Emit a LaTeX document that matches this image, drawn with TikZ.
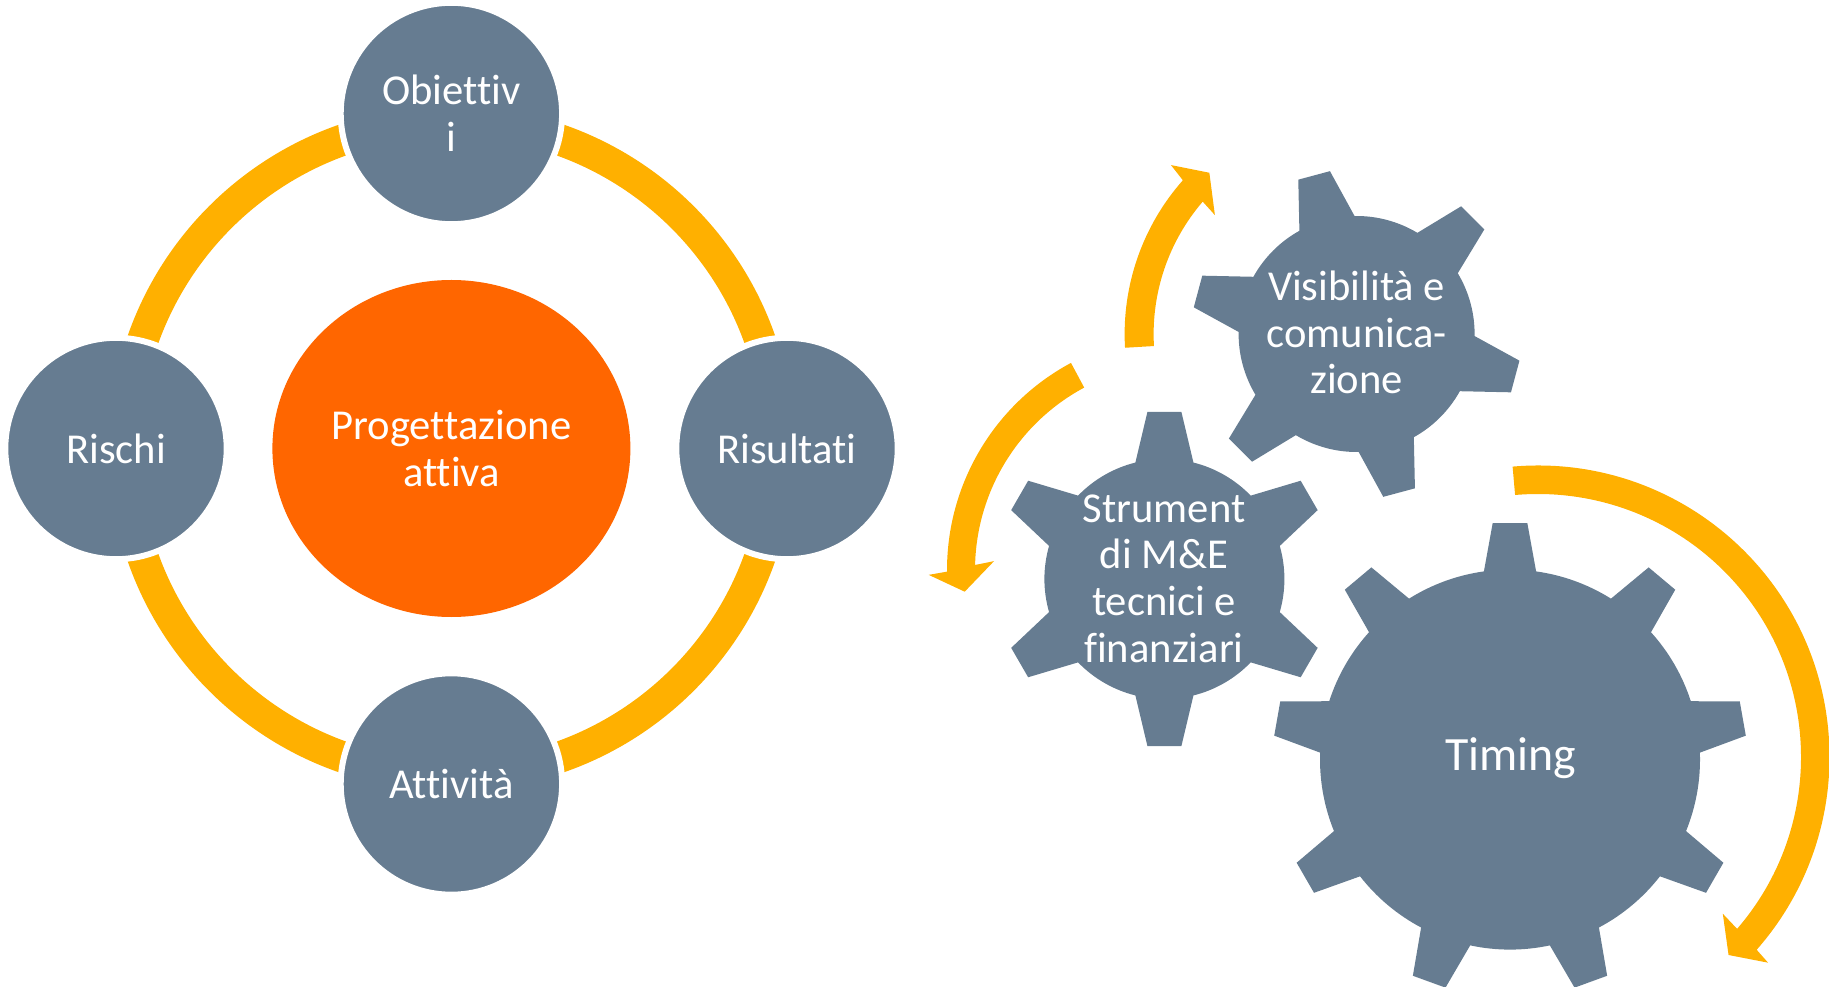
\documentclass[tikz,border=0pt]{standalone}
\usepackage{fontspec}
\setmainfont[Ligatures=NoCommon]{Carlito}
\usetikzlibrary{backgrounds,shapes.geometric}

\definecolor{slateblue}{HTML}{667C91}
\definecolor{ringyellow}{HTML}{FFB000}
\definecolor{coreorange}{HTML}{FF6600}

\tikzset{
    stepnode/.style={circle,fill=slateblue,draw=white,line width=3pt,minimum size=110.7pt,inner sep=0pt,align=center,text=white,font=\fontsize{21.3}{23.3}\selectfont},
    corenode/.style={ellipse,fill=coreorange,minimum width=179pt,minimum height=168.5pt,inner sep=0pt,align=center,text=white,font=\fontsize{21.3}{23.3}\selectfont},
    gearlabel/.style={align=center,inner sep=0pt,text=white,font=\fontsize{21.3}{23.3}\selectfont},
    gearfill/.style={fill=slateblue},
    sweepfill/.style={fill=ringyellow},
    ringarc/.style={draw=ringyellow,line width=15.7pt}
}

% centre, teeth, first angle, root radius, tip radius, half angle at root, half angle at tip
\newcommand{\drawgear}[7]{
    \fill[gearfill,shift={(#1)}] (#3+360/#2-#6:#4)
        \foreach \k [evaluate=\k as \a using #3+\k*360/#2] in {1,...,#2} {
            -- (\a-#6:#4) -- (\a-#7:#5) -- (\a+#7:#5) -- (\a+#6:#4)
            arc[start angle=\a+#6,end angle=\a+360/#2-#6,radius=#4]
        } -- cycle;
}

\begin{document}
\begin{tikzpicture}[x=0.5pt,y=0.5pt]
        \useasboundingbox (0,0) rectangle (1829,986);

        % Cycle
        \node[corenode] (progettazione) at (451.4,537.5) {Progettazione\\attiva};
        \node[stepnode] (obiettivi) at (451.4,872.5) {Obiettiv\\i};
        \node[stepnode] (risultati) at (787,537.5) {Risultati};
        \node[stepnode] (attivita) at (451.4,202) {Attività};
        \node[stepnode] (rischi) at (116,537.5) {Rischi};

        % Gear labels
        \node[gearlabel] (visibilita) at (1356.6,653.5) {Visibilità e\\comunica-\\zione};
        \node[gearlabel] (strumenti) at (1164,407.4) {Strument\\di M\&E\\tecnici e\\finanziari};
        \node[gearlabel,font=\fontsize{23.9}{26}\selectfont] (timing) at (1510.6,227.5) {Timing};

        % Centres
        \coordinate (visgear) at (1356.6,652);
        \coordinate (strgear) at (1164.4,407);
        \coordinate (timgear) at (1510,226.4);
        \coordinate (sweepb) at (1182,416);
        \coordinate (sweepc) at (1538,229);

        \begin{scope}[on background layer]
            % Ring
            \foreach \s in {0,90,180,270} {
                \draw[ringarc] ([shift={(\s:327)}]progettazione.center) arc[start angle=\s,end angle=\s+90,radius=327];
            }

            % Gears
            \drawgear{visgear}{6}{45}{118}{165}{14}{5.7}
            \drawgear{strgear}{6}{30}{120}{168}{14}{5.8}
            \drawgear{timgear}{9}{10}{190}{237}{7.9}{4.2}

            % Arrows
            \fill[sweepfill,shift={(visgear)}] (183.4:232) arc[start angle=183.4,end angle=138.5,radius=232]
                -- (137.7:251) -- (132.4:218.4) -- (140:185) -- (139.3:203)
                arc[start angle=139.3,end angle=183.4,radius=203] -- cycle;
            \fill[sweepfill,shift={(sweepb)}] (118.2:235) arc[start angle=118.2,end angle=180.4,radius=235]
                -- (181.1:253.4) -- (185.7:218.4) -- (177.3:188.2) -- (178.6:207)
                arc[start angle=178.6,end angle=118.2,radius=207] -- cycle;
            \fill[sweepfill,shift={(sweepc)}] (95:291.5) arc[start angle=95,end angle=-41.4,radius=291.5]
                -- (-41.8:308.6) -- (-46.1:274.8) -- (-40.3:242.3) -- (-40.8:263)
                arc[start angle=-40.8,end angle=95,radius=263] -- cycle;
        \end{scope}

    \end{tikzpicture}
\end{document}
